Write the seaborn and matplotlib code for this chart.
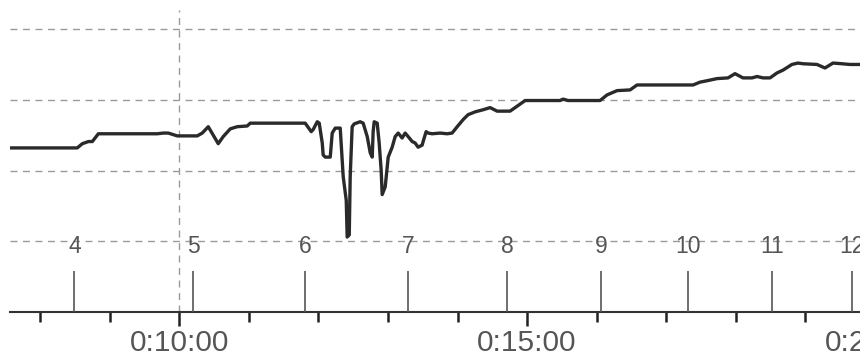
import matplotlib
matplotlib.use("Agg")
import matplotlib.pyplot as plt
from matplotlib.ticker import FuncFormatter, MultipleLocator
import seaborn as sns
import pandas as pd

# ---- data (time in seconds, value in chart units) ----
time_s = [454, 512, 516.4, 521.6, 525, 530.2, 581, 586.2, 590.5, 598.3,
          615.5, 619.8, 625, 629.3, 633.6, 637.9, 644, 650, 658.6, 661.2,
          708.6, 713.8, 715.5, 719, 720.7, 723.3, 724.1, 725.9, 730.2, 731.9,
          734.5, 738.8, 741.4, 744, 744.8, 746.6, 747.4, 749.1, 750.9, 756,
          758.6, 762.1, 764.7, 766.4, 767.2, 768.1, 770.7, 772.4, 774.1, 775,
          777.6, 780.2, 783.6, 786.2, 788.8, 792.2, 794.8, 797.4, 800.9, 803.4,
          806, 809.5, 810.3, 812.9, 814.7, 818.1, 825, 831, 835.3, 839.7,
          844.8, 849.1, 855.2, 862.1, 868.1, 874.1, 885.3, 891.4, 898.3, 928.4,
          931, 935.3, 962.9, 969, 977.6, 988.8, 994.8, 1043.1, 1049.1, 1055.2,
          1063.8, 1073.3, 1079.3, 1086.2, 1094, 1098.3, 1103.4, 1109.5, 1115.5, 1120.7,
          1128.4, 1133.6, 1137.9, 1150, 1156.9, 1163.8, 1171.6, 1178.4, 1187]
values = [23.2, 23.2, 23.8, 24.1, 24.1, 25.2, 25.2, 25.3, 25.3, 24.9,
          24.9, 25.3, 26.2, 25.0, 23.8, 24.8, 25.9, 26.2, 26.3, 26.7,
          26.7, 25.5, 25.8, 26.9, 26.7, 23.9, 22.2, 21.9, 21.9, 25.3,
          26.0, 26.0, 19.1, 15.8, 10.6, 10.9, 19.1, 26.2, 26.6, 26.9,
          26.7, 24.8, 22.5, 21.9, 25.5, 26.9, 26.7, 23.9, 20.1, 16.6,
          17.7, 21.9, 23.3, 24.8, 25.3, 24.6, 25.3, 24.8, 24.1, 23.9,
          23.3, 23.6, 24.1, 25.5, 25.3, 25.2, 25.3, 25.2, 25.3, 26.2,
          27.2, 27.9, 28.3, 28.6, 28.9, 28.4, 28.4, 29.1, 29.9, 29.9,
          30.1, 29.9, 29.9, 30.7, 31.3, 31.4, 32.1, 32.1, 32.5, 32.7,
          33.0, 33.1, 33.7, 33.1, 33.1, 33.3, 33.1, 33.1, 33.8, 34.2,
          35.0, 35.2, 35.1, 35.0, 34.5, 35.2, 35.1, 35.0, 35.0]

lap_numbers = ["4", "5", "6", "7", "8", "9", "10", "11", "12"]
lap_times = [509.5, 612, 708.6, 797.4, 882.8, 963.8, 1038.8, 1111.2, 1180.2]
cursor_time = 600
grid_values = [10, 20, 30, 40]

df = pd.DataFrame({"time": time_s, "value": values})

# ---- styling ----
sns.set_style("white")
plt.rcParams["font.family"] = ["Liberation Sans", "DejaVu Sans"]

W, H = 860, 359
fig = plt.figure(figsize=(W / 100, H / 100), dpi=100)
ax = fig.add_axes([10 / W, 47 / H, 890 / W, 302 / H])

sns.lineplot(data=df, x="time", y="value", ax=ax, color="#2a2a2a",
             linewidth=2.4, zorder=5)

ax.set_xlim(454, 1221.6)
ax.set_ylim(0, 42.7)

# horizontal dashed grid
ax.set_yticks(grid_values)
ax.yaxis.grid(True, color="#9a9a9a", linestyle=(0, (5, 4)), linewidth=1.0)
ax.tick_params(axis="y", left=False, labelleft=False)
ax.xaxis.grid(False)

# cursor line
ax.axvline(cursor_time, color="#9a9a9a", linestyle=(0, (5, 4)), linewidth=1.0, zorder=1)

# lap markers
ax.vlines(lap_times, 0, 5.8, color="#555555", linewidth=1.2, zorder=3)
for t, lab in zip(lap_times, lap_numbers):
    ax.text(t, 9.3, lab, ha="center", va="center", fontsize=16.5,
            color="#555555", zorder=4)

# x axis ticks
ax.xaxis.set_major_locator(MultipleLocator(300))
ax.xaxis.set_minor_locator(MultipleLocator(60))


def fmt(x, pos):
    s = int(round(x))
    return f"{s // 3600}:{(s % 3600) // 60:02d}:{s % 60:02d}"


ax.xaxis.set_major_formatter(FuncFormatter(fmt))
ax.tick_params(axis="x", which="both", bottom=True)
ax.tick_params(axis="x", which="major", direction="out", length=10, width=1.8,
               color="#222222", labelsize=21.5, labelcolor="#555555", pad=2)
ax.tick_params(axis="x", which="minor", direction="out", length=7.2, width=1.8,
               color="#222222")
ax.set_xlabel("")
ax.set_ylabel("")

for side in ["left", "top", "right"]:
    ax.spines[side].set_visible(False)
ax.spines["bottom"].set_color("#333333")
ax.spines["bottom"].set_linewidth(1.5)

fig.savefig("out.png", dpi=100)
